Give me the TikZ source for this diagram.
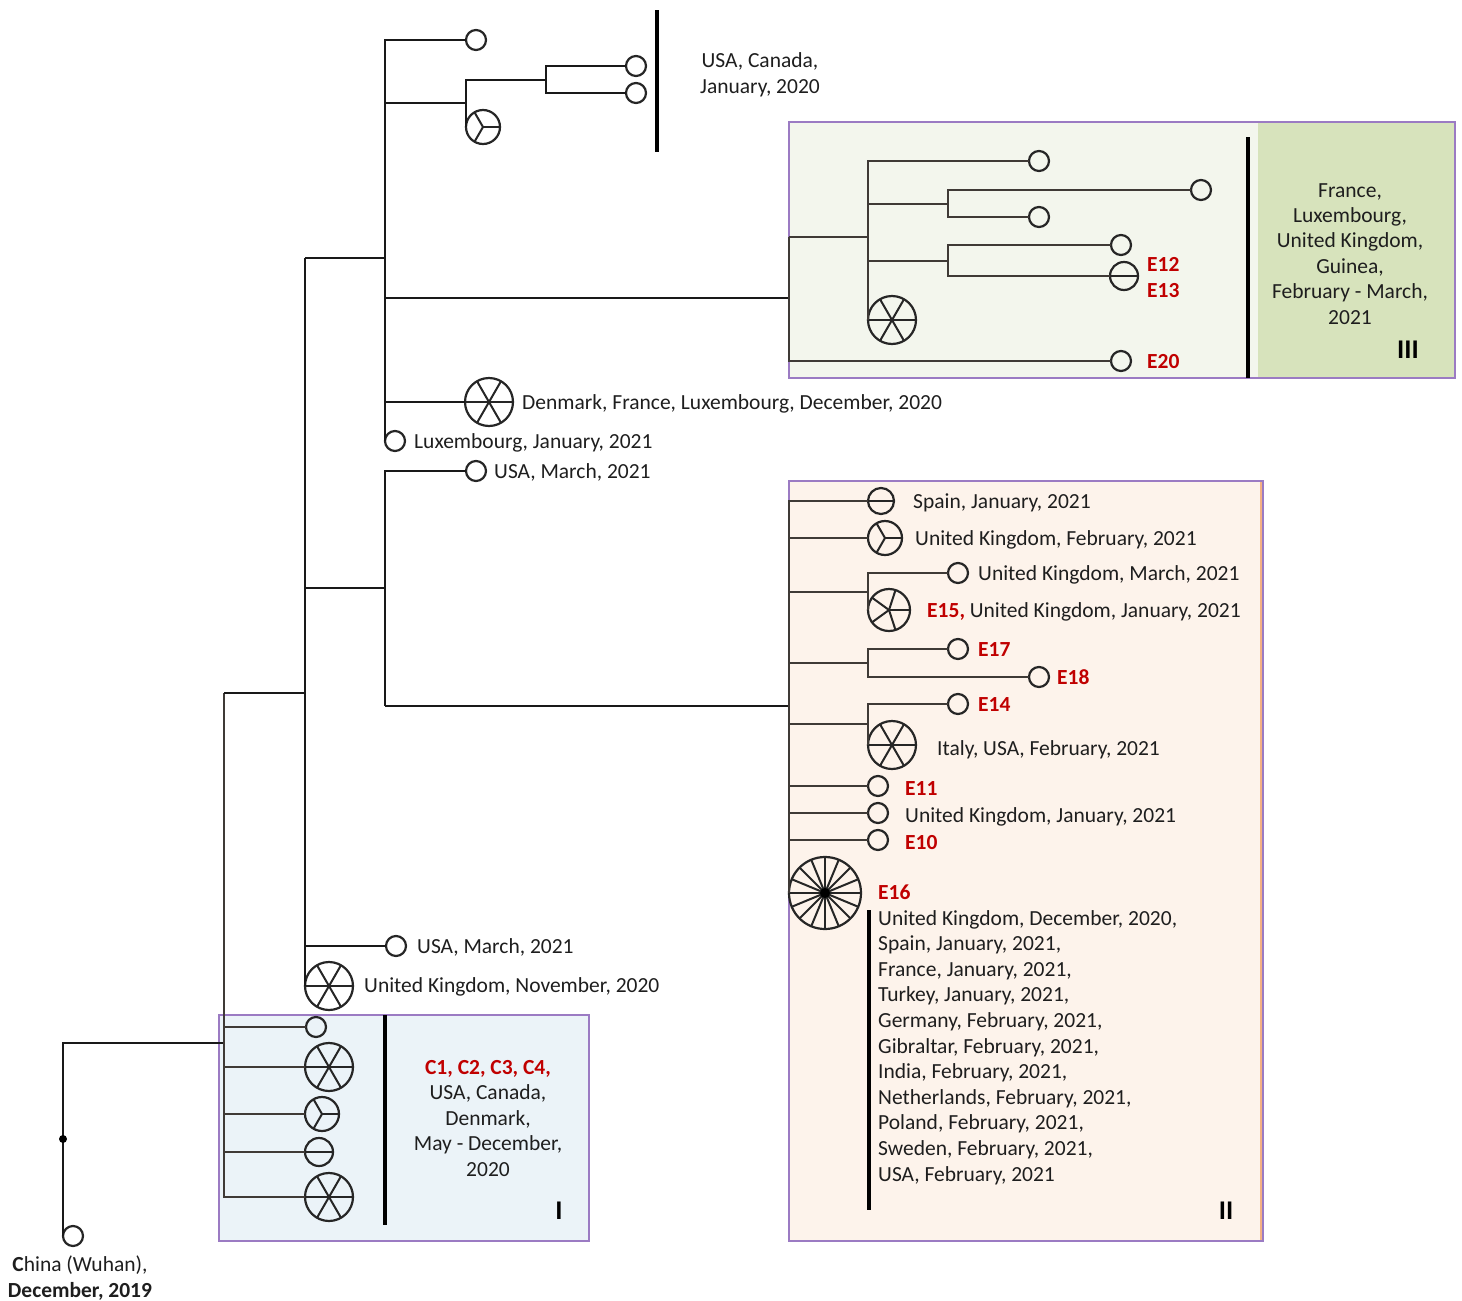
\documentclass[tikz,border=0pt]{standalone}
\usepackage{fontspec}
\setmainfont{Carlito}
\usetikzlibrary{calc}
\definecolor{ered}{HTML}{C00000}
\definecolor{boxpurple}{HTML}{9B7BC3}
\definecolor{fillI}{HTML}{EBF3F8}
\definecolor{fillII}{HTML}{FDF3EB}
\definecolor{fillIIIa}{HTML}{F3F6ED}
\definecolor{fillIIIb}{HTML}{D7E3BC}
\definecolor{edgeII}{HTML}{F4B183}
\definecolor{txt}{HTML}{1E1E1E}
\definecolor{inl}{HTML}{3F3A36}
\newcommand{\myfs}{\fontsize{21.5}{25.6}\selectfont}
\newcommand{\romfs}{\fontsize{27}{30}\selectfont\bfseries}
\newcommand{\rd}[1]{\textcolor{ered}{\textbf{#1}}}
\begin{document}
\begin{tikzpicture}[x=1pt,y=-1pt,
  br/.style={line width=2.4pt, draw=black!90},
  bri/.style={line width=2.2pt, draw=inl},
  sep/.style={line width=3.2pt, draw=black},
  sym/.style={circle, draw=black!85, line width=2.2pt, inner sep=0pt, outer sep=0pt, minimum size=#1},
  sym/.default=20,
  spokes/.style={path picture={\foreach \a in {#1} \draw[line width=2pt, black!85] (path picture bounding box.center) -- ($(path picture bounding box.center)!1!\a:(path picture bounding box.east)$);}},
  leaf/.style={sym=20},
  barc/.style={sym=#1, path picture={\draw[line width=2pt, black!85] (path picture bounding box.west) -- (path picture bounding box.east);}},
  tri/.style={sym=34, spokes={0,120,240}},
  star6/.style={sym=48, spokes={0,60,120,180,240,300}},
  star5/.style={sym=42, spokes={0,72,144,216,288}},
  wheel/.style={sym=72, spokes={0,22.5,...,337.5}},
  dotn/.style={circle, fill=black, inner sep=0pt, minimum size=8},
  lab/.style={anchor=base west, inner sep=0pt, font=\myfs, text=txt},
  lc/.style={anchor=base, inner sep=0pt, font=\myfs, text=txt},
  rom/.style={anchor=base, inner sep=0pt, font=\romfs, text=black}
]
\useasboundingbox (0,0) rectangle (1462,1301);

% ---------- boxes ----------
\fill[fillI] (219,1015) rectangle (589,1241);
\draw[boxpurple, line width=1.4pt] (219,1015) rectangle (589,1241);
\fill[fillII] (789,481) rectangle (1263,1241);
\draw[boxpurple, line width=1.4pt] (789,481) rectangle (1263,1241);
\draw[edgeII, line width=1.6pt] (1261,482) -- (1261,1240);
\fill[fillIIIa] (789,122) rectangle (1258,378);
\fill[fillIIIb] (1258,122) rectangle (1455,378);
\draw[boxpurple, line width=1.4pt] (789,122) rectangle (1455,378);

% ---------- separators ----------
\draw[sep] (657,10) -- (657,152);
\draw[sep] (1248,137) -- (1248,378);
\draw[sep] (385,1015) -- (385,1225);
\draw[sep] (869,910) -- (869,1210);

% ---------- root ----------
\node[leaf] (china) at (73,1236) {};
\coordinate (n1top) at (224,693);
\coordinate (n1mid) at (224,1043);
\draw[br] (china.west) |- (n1mid);
\node[dotn] (dot0) at (63,1139) {};

% ---------- clade I ----------
\node[leaf] (c1) at (316,1027) {};
\node[star6] (c2) at (329,1067) {};
\node[tri] (c3) at (322,1114) {};
\node[barc=28] (c4) at (319,1152) {};
\node[star6] (c5) at (329,1197) {};
\draw[bri] (n1top) |- (c5.west);
\foreach \n in {c1,c2,c3,c4} \draw[bri] (\n.west -| n1top) -- (\n.west);

% ---------- level 2 ----------
\coordinate (n2top) at (305,258);
\coordinate (n2j) at (305,693);
\draw[br] (n1top) -- (n2j);
\node[star6] (uknov) at (329,986) {};
\node[leaf] (usa3b) at (396,946) {};
\draw[br] (n2top) |- (uknov.west);
\draw[br] (usa3b.west -| n2top) -- (usa3b.west);

% ---------- level 3 (to clade II) ----------
\coordinate (n3j) at (385,588);
\coordinate (n3bot) at (385,706);
\node[leaf] (usa3a) at (476,471) {};
\draw[br] (n3j -| n2top) -- (n3j);
\draw[br] (usa3a.west) -| (n3bot);

% ---------- level 4 (top) ----------
\coordinate (n4j) at (385,258);
\node[leaf] (lux) at (395,441) {};
\node[leaf] (t1) at (476,40) {};
\draw[br] (n2top) -- (n4j);
\draw[br] (t1.west) -| (lux.west);
\coordinate (n5j) at (466,103);
\node[tri] (t3) at (483,127) {};
\coordinate (n6j) at (546,80);
\node[leaf] (t4) at (636,66) {};
\node[leaf] (t5) at (636,93) {};
\draw[br] (n5j -| lux.west) -- (n5j);
\draw[br] (t3.west) |- (n6j);
\draw[br] (t4.west) -| (n6j);
\draw[br] (t5.west) -| (n6j);
\node[star6] (dk) at (489,402) {};
\draw[br] (dk.west -| lux.west) -- (dk.west);
\coordinate (b3j) at (789,298);
\draw[br] (b3j -| lux.west) -- (b3j);

% ---------- clade III ----------
\coordinate (b3top) at (789,237);
\coordinate (b3k) at (868,237);
\node[leaf] (e20) at (1121,361) {};
\node[star6] (s3) at (892,320) {};
\node[leaf] (g1) at (1039,161) {};
\node[leaf] (g2) at (1201,190) {};
\node[leaf] (g3) at (1039,217) {};
\node[leaf] (g4) at (1121,245) {};
\node[barc=28] (g5) at (1124,276) {};
\coordinate (b3m) at (948,204);
\coordinate (b3n) at (948,261);
\draw[bri] (b3top) |- (e20.west);
\draw[bri] (b3top) -- (b3k);
\draw[bri] (g1.west) -| (s3.west);
\draw[bri] (b3m -| s3.west) -- (b3m);
\draw[bri] (g2.west) -| (b3m);
\draw[bri] (g3.west) -| (b3m);
\draw[bri] (b3n -| s3.west) -- (b3n);
\draw[bri] (g4.west) -| (b3n);
\draw[bri] (g5.west) -| (b3n);

% ---------- clade II ----------
\node[wheel] (e16) at (825,893) {};
\node[dotn, minimum size=10] (e16c) at (825,893) {};
\draw[br] (n3bot) -- (n3bot -| e16.west);
\node[barc=26] (sp) at (881,501) {};
\node[tri] (ukf) at (885,538) {};
\draw[bri] (sp.west) -| (e16.west);
\draw[bri] (ukf.west -| e16.west) -- (ukf.west);
\coordinate (b2a) at (868,592);
\node[star5] (s5) at (889,610) {};
\node[leaf] (ukm) at (958,573) {};
\draw[bri] (b2a -| e16.west) -- (b2a);
\draw[bri] (ukm.west) -| (s5.west);
\coordinate (b2b) at (868,663);
\node[leaf] (e17) at (958,649) {};
\node[leaf] (e18) at (1039,677) {};
\draw[bri] (b2b -| e16.west) -- (b2b);
\draw[bri] (e17.west) -| (b2b);
\draw[bri] (e18.west) -| (b2b);
\coordinate (b2c) at (868,724);
\node[star6] (s6) at (892,745) {};
\node[leaf] (e14) at (958,704) {};
\draw[bri] (b2c -| e16.west) -- (b2c);
\draw[bri] (e14.west) -| (s6.west);
\node[leaf] (e11) at (878,786) {};
\node[leaf] (ukj) at (878,813) {};
\node[leaf] (e10) at (878,840) {};
\foreach \n in {e11,ukj,e10} \draw[bri] (\n.west -| e16.west) -- (\n.west);

% ---------- labels ----------
\node[lc] (tUC) at (760,67) {USA, Canada,};
\node[lc] (tUC2) at (760,93) {January, 2020};
\node[lab] (tDK) at (522,409) {Denmark, France, Luxembourg, December, 2020};
\node[lab] (tLux) at (414,448) {Luxembourg, January, 2021};
\node[lab] (tUSA1) at (494,478) {USA, March, 2021};
\node[lab] (tUSA2) at (417,953) {USA, March, 2021};
\node[lab] (tUKN) at (364,992) {United Kingdom, November, 2020};
\node[lc] (tCh1) at (80,1271) {\textbf{C}hina (Wuhan),};
\node[lc] (tCh2) at (80,1297) {\textbf{December, 2019}};

% clade III labels
\node[lab] (tE12) at (1147,271) {\rd{E12}};
\node[lab] (tE13) at (1147,297) {\rd{E13}};
\node[lab] (tE20) at (1147,368) {\rd{E20}};
\foreach \t [count=\i from 0] in {{France,},{Luxembourg,},{United Kingdom,},{Guinea,},{February - March,},{2021}}
  \node[lc] (tIII\i) at (1350,{197+25.4*\i}) {\t};
\node[rom] (rIII) at (1408,358) {III};

% clade II labels
\node[lab] (tSp) at (913,508) {Spain, January, 2021};
\node[lab] (tUKF) at (915,545) {United Kingdom, February, 2021};
\node[lab] (tUKM) at (978,580) {United Kingdom, March, 2021};
\node[lab] (tE15) at (927,617) {\rd{E15,} United Kingdom, January, 2021};
\node[lab] (tE17) at (978,656) {\rd{E17}};
\node[lab] (tE18) at (1057,684) {\rd{E18}};
\node[lab] (tE14) at (978,711) {\rd{E14}};
\node[lab] (tIt) at (937,755) {Italy, USA, February, 2021};
\node[lab] (tE11) at (905,795) {\rd{E11}};
\node[lab] (tUKJ) at (905,822) {United Kingdom, January, 2021};
\node[lab] (tE10) at (905,849) {\rd{E10}};
\node[lab] (tE16) at (878,899) {\rd{E16}};
\foreach \t [count=\i from 0] in {{United Kingdom, December, 2020,},{Spain, January, 2021,},{France, January, 2021,},{Turkey, January, 2021,},{Germany, February, 2021,},{Gibraltar, February, 2021,},{India, February, 2021,},{Netherlands, February, 2021,},{Poland, February, 2021,},{Sweden, February, 2021,},{USA, February, 2021}}
  \node[lab] (tL\i) at (878,{925+25.6*\i}) {\t};
\node[rom] (rII) at (1226,1219) {II};

% clade I labels
\node[lc] (tI0) at (488,1074) {\rd{C1, C2, C3, C4,}};
\foreach \t [count=\i from 1] in {{USA, Canada,},{Denmark,},{May - December,},{2020}}
  \node[lc] (tI\i) at (488,{1074+25.5*\i}) {\t};
\node[rom] (rI) at (559,1219) {I};
\end{tikzpicture}
\end{document}
